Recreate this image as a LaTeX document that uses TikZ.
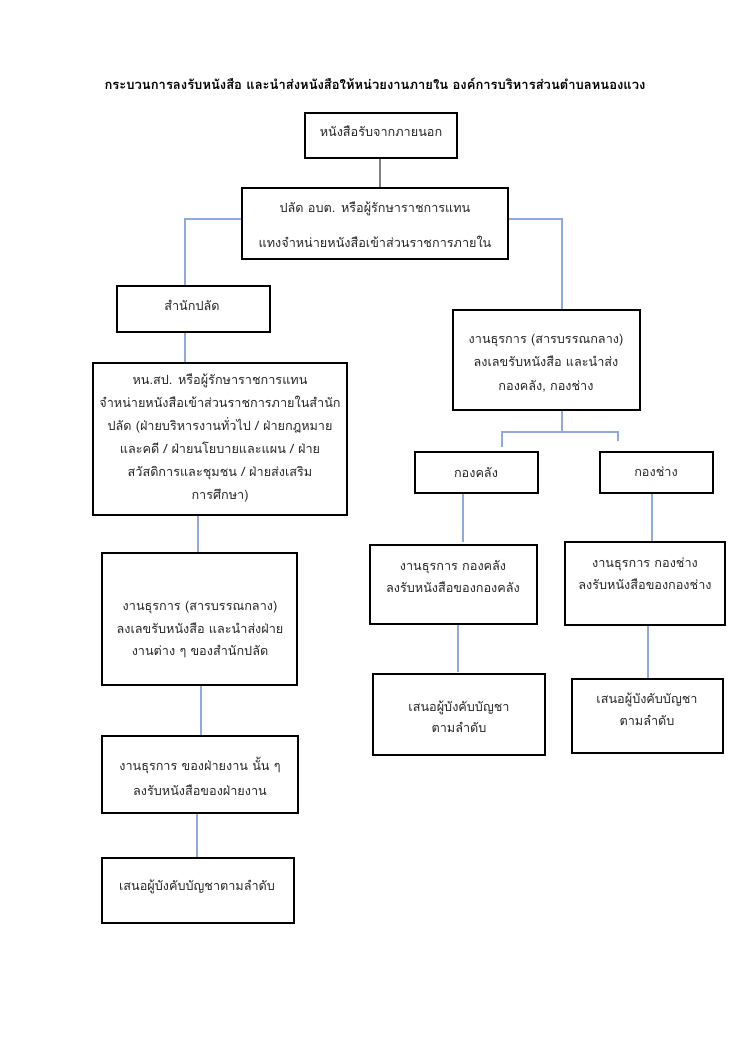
\documentclass[tikz,border=0pt]{standalone}
\usepackage{fontspec}
\setmainfont[Script=Thai]{Loma}
\usetikzlibrary{fit,shadows}
\definecolor{connblue}{HTML}{8FAADC}
\definecolor{conngray}{HTML}{808080}
\tikzset{
  boxst/.style={draw=black, line width=1.0pt, fill=white, inner sep=0pt,
    drop shadow={shadow xshift=1.1pt, shadow yshift=-1.1pt, fill=black!45, opacity=0.5}},
  txt/.style={align=center, inner sep=0pt, text=black!85},
  conn/.style={draw=connblue, line width=0.8pt},
  conng/.style={draw=conngray, line width=0.9pt},
}
\newcommand{\mkbox}[5]{%
  \path (#2,#3) coordinate (#1-nw) (#4,#5) coordinate (#1-se);
  \node[boxst, fit=(#1-nw)(#1-se)] (#1) {};}
\begin{document}
\begin{tikzpicture}[x=0.75pt, y=-0.75pt]
\useasboundingbox[fill=white] (0,0) rectangle (750,1060);
\def\fs#1{\fontsize{9.5}{#1}\selectfont\lineskiplimit=-100pt}
% title
\node[inner sep=0pt, font=\fontsize{9.75}{12}\selectfont\bfseries] (title) at (375,84)
  {กระบวนการลงรับหนังสือ และนำส่งหนังสือให้หน่วยงานภายใน องค์การบริหารส่วนตำบลหนองแวง};
% boxes
\mkbox{b1}{305}{113}{457}{158}
\mkbox{b2}{242}{188}{508}{259}
\mkbox{b3}{117}{286}{270}{332}
\mkbox{b4}{93}{363}{347}{515}
\mkbox{b5}{102}{553}{297}{685}
\mkbox{b6}{102}{736}{298}{813}
\mkbox{b7}{102}{858}{294}{923}
\mkbox{b8}{453}{310}{640}{410}
\mkbox{b9}{415}{452}{538}{493}
\mkbox{b10}{600}{452}{713}{493}
\mkbox{b11}{370}{545}{537}{624}
\mkbox{b12}{565}{542}{725}{625}
\mkbox{b13}{373}{674}{545}{755}
\mkbox{b14}{572}{679}{723}{753}
% texts
\node[txt, font=\fs{13}] (t1) at (381,131) {หนังสือรับจากภายนอก};
\node[txt, font=\fs{26}] (t2) at (375,225) {ปลัด อบต. หรือผู้รักษาราชการแทน\\แทงจำหน่ายหนังสือเข้าส่วนราชการภายใน};
\node[txt, font=\fs{13}] (t3) at (192,305) {สำนักปลัด};
\node[txt, font=\fs{17.25}] (t4) at (220,438) {หน.สป. หรือผู้รักษาราชการแทน\\จำหน่ายหนังสือเข้าส่วนราชการภายในสำนัก\\ปลัด (ฝ่ายบริหารงานทั่วไป / ฝ่ายกฎหมาย\\และคดี / ฝ่ายนโยบายและแผน / ฝ่าย\\สวัสดิการและชุมชน / ฝ่ายส่งเสริม\\การศึกษา)};
\node[txt, font=\fs{16.9}] (t5) at (200,630) {งานธุรการ (สารบรรณกลาง)\\ลงเลขรับหนังสือ และนำส่งฝ่าย\\งานต่าง ๆ ของสำนักปลัด};
\node[txt, font=\fs{18.75}] (t6) at (200,776) {งานธุรการ ของฝ่ายงาน นั้น ๆ\\ลงรับหนังสือของฝ่ายงาน};
\node[txt, font=\fs{13}] (t7) at (197,887) {เสนอผู้บังคับบัญชาตามลำดับ};
\node[txt, font=\fs{17.6}] (t8) at (546,363) {งานธุรการ (สารบรรณกลาง)\\ลงเลขรับหนังสือ และนำส่ง\\กองคลัง, กองช่าง};
\node[txt, font=\fs{13}] (t9) at (476,472) {กองคลัง};
\node[txt, font=\fs{13}] (t10) at (656,472) {กองช่าง};
\node[txt, font=\fs{16.5}] (t11) at (453,576) {งานธุรการ กองคลัง\\ลงรับหนังสือของกองคลัง};
\node[txt, font=\fs{16.5}] (t12) at (645,574) {งานธุรการ กองช่าง\\ลงรับหนังสือของกองช่าง};
\node[txt, font=\fs{16}] (t13) at (459,717) {เสนอผู้บังคับบัญชา\\ตามลำดับ};
\node[txt, font=\fs{16.5}] (t14) at (647,709) {เสนอผู้บังคับบัญชา\\ตามลำดับ};
% connectors
\draw[conng] ([xshift=-0.75pt]b1.south) -- ([xshift=-0.75pt]b1.south |- b2.north);
\coordinate (jl) at (185,219);
\coordinate (jr) at (562,219);
\draw[conn] (b2.west |- jl) -- (jl) -- (jl |- b3.north);
\draw[conn] (b2.east |- jr) -- (jr) -- (jr |- b8.north);
\draw[conn] (jl |- b3.south) -- (jl |- b4.north);
\coordinate (c45) at (198,0);
\draw[conn] (c45 |- b4.south) -- (c45 |- b5.north);
\coordinate (c56) at (201,0);
\draw[conn] (c56 |- b5.south) -- (c56 |- b6.north);
\coordinate (c67) at (197,0);
\draw[conn] (c67 |- b6.south) -- (c67 |- b7.north);
\coordinate (bj) at (562,432);
\coordinate (bl) at (502,447);
\coordinate (br) at (618,441);
\draw[conn] (jr |- b8.south) -- (bj);
\draw[conn] (bl) -- (bl |- bj) -- (br |- bj) -- (br);
\coordinate (c911) at (463,542);
\draw[conn] (c911 |- b9.south) -- (c911);
\coordinate (c1012) at (652,0);
\draw[conn] (c1012 |- b10.south) -- (c1012 |- b12.north);
\coordinate (c1113) at (458,672);
\draw[conn] (c1113 |- b11.south) -- (c1113);
\coordinate (c1214) at (648,0);
\draw[conn] (c1214 |- b12.south) -- (c1214 |- b14.north);
\end{tikzpicture}
\end{document}
